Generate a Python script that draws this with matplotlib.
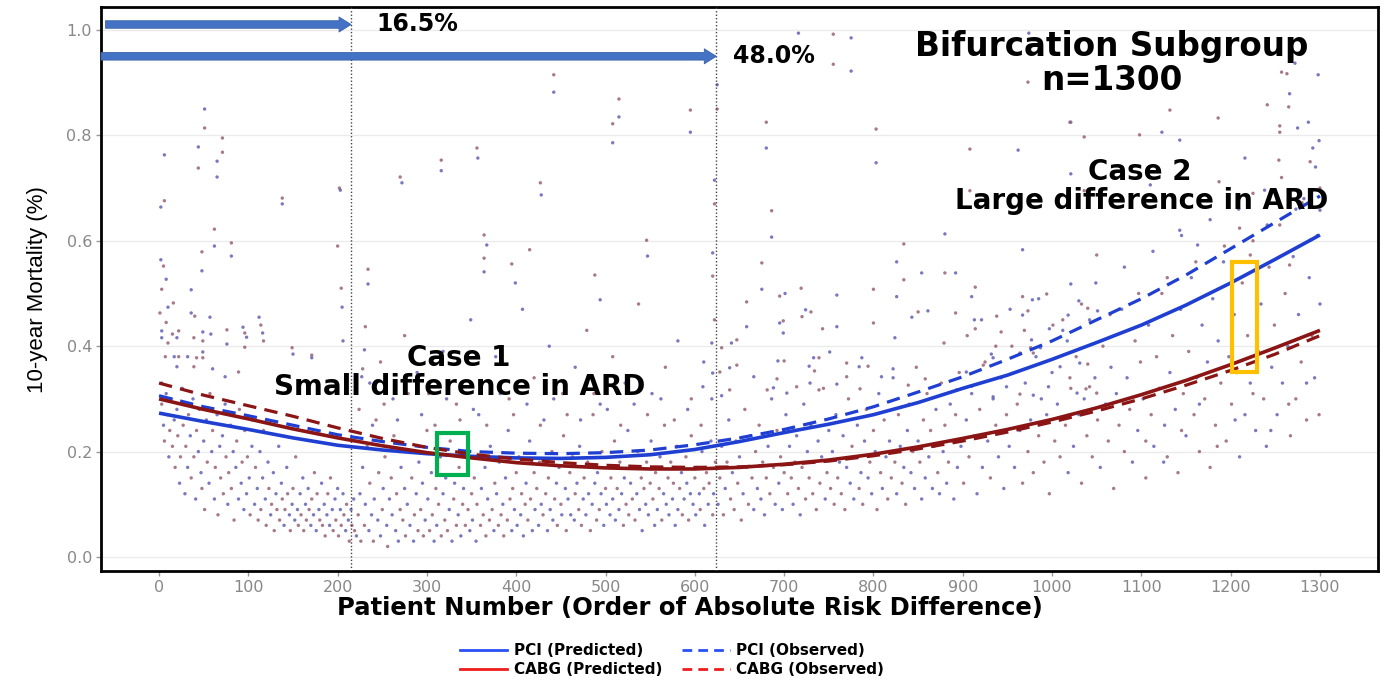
import matplotlib
matplotlib.use("Agg")
import matplotlib.pyplot as plt
from matplotlib.lines import Line2D
from matplotlib.patches import Rectangle
import numpy as np

# ---------------- data ----------------
curve_x = [0, 50, 100, 150, 200, 250, 300, 350, 400, 450, 500, 550, 600, 650,
           700, 750, 800, 850, 900, 950, 1000, 1050, 1100, 1150, 1200, 1250, 1300]
pci_pred = [0.273, 0.257, 0.242, 0.226, 0.212, 0.203, 0.196, 0.191, 0.188, 0.187,
            0.189, 0.194, 0.204, 0.219, 0.236, 0.252, 0.270, 0.293, 0.320, 0.345,
            0.375, 0.407, 0.440, 0.478, 0.520, 0.565, 0.611]
pci_obs = [0.306, 0.285, 0.268, 0.250, 0.232, 0.219, 0.208, 0.200, 0.197, 0.196,
           0.198, 0.203, 0.213, 0.226, 0.242, 0.262, 0.285, 0.313, 0.342, 0.375,
           0.410, 0.450, 0.490, 0.535, 0.585, 0.635, 0.685]
cabg_pred = [0.300, 0.280, 0.262, 0.243, 0.226, 0.211, 0.198, 0.188, 0.179, 0.173,
             0.169, 0.167, 0.167, 0.170, 0.176, 0.184, 0.195, 0.209, 0.225, 0.242,
             0.261, 0.283, 0.308, 0.335, 0.365, 0.397, 0.430]
cabg_obs = [0.330, 0.307, 0.287, 0.267, 0.245, 0.225, 0.208, 0.195, 0.186, 0.179,
            0.174, 0.171, 0.170, 0.171, 0.175, 0.182, 0.192, 0.205, 0.220, 0.237,
            0.256, 0.277, 0.300, 0.326, 0.354, 0.385, 0.420]

cutoffs = [215, 624]
cutoff_labels = ["16.5%", "48.0%"]

outliers_left = [
    (51, 0.850), (51, 0.814), (6, 0.763), (71, 0.795), (44, 0.778), (71, 0.768),
    (65, 0.751), (44, 0.738), (65, 0.721), (202, 0.700), (203, 0.696), (138, 0.681),
    (138, 0.670), (6, 0.676), (2, 0.664), (62, 0.622), (62, 0.590), (81, 0.596),
    (81, 0.571), (48, 0.579), (48, 0.543), (200, 0.590), (2, 0.564), (5, 0.552),
    (8, 0.527), (3, 0.508), (36, 0.507), (204, 0.510), (205, 0.474), (234, 0.546),
    (234, 0.518), (16, 0.482), (10, 0.474), (1, 0.463), (36, 0.463), (40, 0.457),
    (57, 0.455), (8, 0.445), (3, 0.429), (22, 0.429), (3, 0.416), (15, 0.423),
    (20, 0.416), (39, 0.416), (49, 0.427), (49, 0.410), (58, 0.423), (76, 0.431),
    (76, 0.404), (10, 0.406), (94, 0.436), (96, 0.425), (98, 0.417), (96, 0.398),
    (112, 0.455), (114, 0.440), (116, 0.425), (117, 0.410), (206, 0.410), (231, 0.437),
    (230, 0.393), (228, 0.357), (227, 0.342), (7, 0.380), (17, 0.380), (22, 0.380),
    (32, 0.380), (42, 0.378), (49, 0.389), (49, 0.378), (20, 0.361), (39, 0.361),
    (60, 0.357), (89, 0.351), (74, 0.342), (149, 0.397), (150, 0.385), (171, 0.383),
    (171, 0.378),
]
outliers_mid = [
    (316, 0.753), (316, 0.733), (356, 0.776), (357, 0.757), (364, 0.611), (367, 0.592),
    (364, 0.567), (364, 0.541), (442, 0.915), (442, 0.882), (427, 0.710), (428, 0.687),
    (270, 0.721), (272, 0.710), (515, 0.869), (515, 0.835), (508, 0.822), (508, 0.786),
    (595, 0.848), (595, 0.806), (546, 0.601), (547, 0.571), (488, 0.535), (494, 0.488),
    (395, 0.556), (399, 0.520), (415, 0.583), (625, 0.896), (625, 0.850), (622, 0.715),
    (622, 0.670), (620, 0.577), (620, 0.533), (716, 0.994), (755, 0.992), (775, 0.985),
    (755, 0.935), (775, 0.922), (680, 0.825), (680, 0.776), (803, 0.812), (803, 0.748),
    (686, 0.657), (686, 0.607), (675, 0.558), (675, 0.508), (658, 0.484), (658, 0.437),
    (908, 0.774), (962, 0.772), (908, 0.695), (880, 0.613), (834, 0.594), (826, 0.560),
    (834, 0.526), (854, 0.539), (880, 0.539), (892, 0.539), (800, 0.508), (826, 0.494),
    (914, 0.512), (910, 0.494), (695, 0.495), (701, 0.500), (719, 0.510), (759, 0.497),
    (720, 0.456), (724, 0.469), (730, 0.465), (695, 0.444), (699, 0.448), (699, 0.425),
    (743, 0.433), (759, 0.437), (800, 0.444), (843, 0.455), (850, 0.465), (861, 0.467),
    (892, 0.463), (913, 0.450), (914, 0.433), (824, 0.416), (879, 0.406), (619, 0.406),
    (630, 0.397), (641, 0.406), (647, 0.412), (693, 0.372), (700, 0.372), (733, 0.378),
    (739, 0.378), (751, 0.389), (770, 0.368), (787, 0.378), (794, 0.362), (809, 0.342),
    (839, 0.326), (822, 0.357), (858, 0.338), (620, 0.349), (628, 0.351), (639, 0.359),
    (647, 0.364), (666, 0.342), (692, 0.338), (728, 0.362), (734, 0.353), (729, 0.330),
    (739, 0.317), (759, 0.328), (770, 0.342), (784, 0.361), (785, 0.319), (609, 0.323),
    (714, 0.323), (703, 0.311), (681, 0.317), (688, 0.321), (639, 0.317), (630, 0.306),
    (893, 0.317), (904, 0.351), (910, 0.324),
]
outliers_right = [
    (1021, 0.825), (1036, 0.797), (1021, 0.727), (1036, 0.695), (967, 0.583),
    (1050, 0.573), (1021, 0.518), (967, 0.494), (978, 0.488), (994, 0.499), (1030, 0.486),
    (938, 0.457), (967, 0.459), (973, 0.467), (997, 0.433), (1012, 0.450), (1018, 0.459),
    (1040, 0.472), (1051, 0.467), (943, 0.427), (977, 0.412), (976, 0.397), (987, 0.397),
    (964, 0.387), (932, 0.385), (923, 0.364), (934, 0.378), (979, 0.387), (1031, 0.368),
    (1040, 0.366), (1009, 0.361), (1020, 0.340), (996, 0.323), (1042, 0.323), (1028, 0.311),
    (1038, 0.319), (979, 0.307), (964, 0.309), (949, 0.323), (1050, 0.311), (934, 0.304),
    (1257, 0.920), (1298, 0.915), (1265, 0.854), (1272, 0.937), (1263, 0.917),
    (1266, 0.879), (1241, 0.858), (1287, 0.825), (1255, 0.818), (1275, 0.814),
    (1255, 0.806), (1292, 0.776), (1254, 0.753), (1216, 0.757), (1187, 0.712),
    (1238, 0.696), (1280, 0.672), (1300, 0.658), (1132, 0.848), (1143, 0.791),
    (1186, 0.833), (1110, 0.706), (1210, 0.624), (1163, 0.592), (1222, 0.573),
    (1289, 0.601), (1266, 0.554), (1143, 0.620), (1020, 0.825), (1123, 0.806),
    (1098, 0.801), (974, 0.994), (973, 0.901), (1295, 0.740), (1300, 0.700),
]
band_left = [
    (3, 0.33), (3, 0.29), (5, 0.25), (6, 0.22), (8, 0.31), (9, 0.27), (11, 0.19), (12, 0.24),
    (14, 0.30), (15, 0.21), (17, 0.26), (18, 0.17), (20, 0.28), (21, 0.23), (23, 0.14),
    (24, 0.19), (26, 0.32), (27, 0.25), (29, 0.12), (30, 0.21), (32, 0.17), (33, 0.27),
    (35, 0.23), (36, 0.15), (38, 0.30), (39, 0.19), (41, 0.11), (42, 0.24), (44, 0.20),
    (45, 0.28), (47, 0.16), (48, 0.13), (50, 0.22), (51, 0.09), (53, 0.26), (54, 0.18),
    (56, 0.14), (57, 0.31), (59, 0.20), (60, 0.24), (62, 0.11), (63, 0.17), (65, 0.27),
    (66, 0.08), (68, 0.21), (69, 0.15), (71, 0.23), (72, 0.12), (74, 0.29), (75, 0.19),
    (77, 0.10), (78, 0.16), (80, 0.25), (81, 0.13), (83, 0.20), (84, 0.07), (86, 0.17),
    (87, 0.22), (89, 0.11), (90, 0.28), (92, 0.14), (93, 0.18), (95, 0.09), (96, 0.24),
    (98, 0.12), (99, 0.19), (101, 0.15), (102, 0.08), (104, 0.21), (105, 0.26), (107, 0.10),
    (108, 0.17), (110, 0.13), (111, 0.07), (113, 0.20), (114, 0.09), (116, 0.15),
    (117, 0.24), (119, 0.11), (120, 0.06), (122, 0.18), (123, 0.13), (125, 0.08),
    (126, 0.10), (128, 0.16), (129, 0.05), (131, 0.12), (132, 0.09), (134, 0.21),
    (135, 0.07), (137, 0.14), (138, 0.11), (140, 0.06), (141, 0.09), (143, 0.17),
    (144, 0.12), (146, 0.08), (147, 0.05), (149, 0.10), (150, 0.13), (152, 0.07),
    (153, 0.19), (155, 0.09), (156, 0.06), (158, 0.12), (159, 0.08), (161, 0.15),
    (162, 0.05), (164, 0.10), (165, 0.07), (167, 0.13), (168, 0.09), (170, 0.06),
    (171, 0.11), (173, 0.08), (174, 0.16), (176, 0.05), (177, 0.12), (179, 0.09),
    (180, 0.07), (182, 0.14), (183, 0.06), (185, 0.10), (186, 0.04), (188, 0.08),
    (189, 0.12), (191, 0.06), (192, 0.15), (194, 0.09), (195, 0.05), (197, 0.11),
    (198, 0.07), (200, 0.13), (201, 0.04), (203, 0.09), (204, 0.06), (206, 0.12),
    (207, 0.08), (209, 0.05), (210, 0.10), (212, 0.07), (213, 0.03), (215, 0.09),
    (216, 0.06), (218, 0.11), (219, 0.05),
]
band_mid = [
    (221, 0.04), (223, 0.08), (225, 0.12), (226, 0.03), (228, 0.17), (230, 0.06), (231, 0.10),
    (233, 0.21), (235, 0.05), (236, 0.14), (238, 0.08), (240, 0.03), (241, 0.11), (243, 0.26),
    (245, 0.07), (246, 0.16), (248, 0.04), (250, 0.09), (251, 0.13), (253, 0.19), (255, 0.06),
    (256, 0.02), (258, 0.11), (260, 0.15), (261, 0.08), (263, 0.23), (265, 0.05), (266, 0.12),
    (268, 0.03), (270, 0.09), (271, 0.17), (273, 0.07), (275, 0.13), (276, 0.04), (278, 0.10),
    (280, 0.20), (281, 0.06), (283, 0.15), (285, 0.03), (286, 0.08), (288, 0.12), (290, 0.05),
    (291, 0.18), (293, 0.09), (295, 0.14), (296, 0.04), (298, 0.07), (300, 0.24), (301, 0.11),
    (303, 0.05), (305, 0.16), (306, 0.08), (308, 0.03), (310, 0.13), (311, 0.06), (313, 0.10),
    (315, 0.19), (316, 0.04), (318, 0.12), (320, 0.07), (321, 0.15), (323, 0.05), (325, 0.09),
    (326, 0.22), (328, 0.03), (330, 0.11), (331, 0.14), (333, 0.06), (335, 0.08), (336, 0.17),
    (338, 0.04), (340, 0.10), (341, 0.13), (343, 0.06), (345, 0.20), (346, 0.09), (348, 0.05),
    (350, 0.12), (351, 0.07), (353, 0.15), (355, 0.03), (356, 0.10), (358, 0.27), (360, 0.06),
    (361, 0.13), (363, 0.08), (365, 0.17), (366, 0.04), (368, 0.11), (370, 0.07), (371, 0.21),
    (373, 0.09), (375, 0.05), (376, 0.14), (378, 0.12), (380, 0.06), (381, 0.18), (383, 0.08),
    (385, 0.10), (386, 0.04), (388, 0.15), (390, 0.07), (391, 0.24), (393, 0.11), (395, 0.05),
    (396, 0.13), (398, 0.09), (400, 0.16), (401, 0.06), (403, 0.19), (405, 0.08), (406, 0.12),
    (408, 0.04), (410, 0.10), (411, 0.14), (413, 0.07), (415, 0.22), (416, 0.11), (418, 0.05),
    (420, 0.16), (421, 0.09), (423, 0.13), (425, 0.06), (426, 0.18), (428, 0.10), (430, 0.08),
    (431, 0.26), (433, 0.12), (435, 0.05), (436, 0.15), (438, 0.09), (440, 0.20), (441, 0.07),
    (443, 0.11), (445, 0.14), (446, 0.06), (448, 0.17), (450, 0.10), (451, 0.08), (453, 0.23),
    (455, 0.13), (456, 0.05), (458, 0.11), (460, 0.16), (461, 0.08), (463, 0.19), (465, 0.07),
    (466, 0.12), (468, 0.14), (470, 0.09), (471, 0.21), (473, 0.06), (475, 0.11), (476, 0.15),
    (478, 0.08), (480, 0.18), (481, 0.12), (483, 0.05), (485, 0.10), (486, 0.27), (488, 0.14),
    (490, 0.07), (491, 0.16), (493, 0.09), (495, 0.12), (496, 0.20), (498, 0.06), (500, 0.13),
    (501, 0.10), (503, 0.17), (505, 0.08), (506, 0.15), (508, 0.11), (510, 0.22), (511, 0.07),
    (513, 0.13), (515, 0.09), (516, 0.18), (518, 0.12), (520, 0.06), (521, 0.15), (523, 0.10),
    (525, 0.24), (526, 0.08), (528, 0.14), (530, 0.11), (531, 0.17), (533, 0.07), (535, 0.12),
    (536, 0.20), (538, 0.09), (540, 0.15), (541, 0.05), (543, 0.13), (545, 0.10), (546, 0.18),
    (548, 0.08), (550, 0.14), (551, 0.22), (553, 0.11), (555, 0.06), (556, 0.16), (558, 0.09),
    (560, 0.13), (561, 0.19), (563, 0.07), (565, 0.12), (566, 0.25), (568, 0.10), (570, 0.15),
    (571, 0.08), (573, 0.18), (575, 0.11), (576, 0.14), (578, 0.06), (580, 0.21), (581, 0.09),
    (583, 0.13), (585, 0.16), (586, 0.08), (588, 0.11), (590, 0.19), (591, 0.14), (593, 0.07),
    (595, 0.12), (596, 0.23), (598, 0.10), (600, 0.15), (601, 0.08), (603, 0.17), (605, 0.12),
    (606, 0.09), (608, 0.20), (610, 0.13), (611, 0.06), (613, 0.16), (615, 0.10), (616, 0.14),
    (618, 0.22), (620, 0.08), (621, 0.12), (623, 0.18),
    (236, 0.33), (248, 0.37), (262, 0.30), (275, 0.42), (289, 0.35), (302, 0.31), (318, 0.39),
    (333, 0.29), (349, 0.45), (362, 0.33), (377, 0.38), (392, 0.30), (407, 0.47), (420, 0.34),
    (437, 0.40), (452, 0.31), (466, 0.36), (479, 0.43), (494, 0.29), (508, 0.38), (522, 0.33),
    (537, 0.48), (552, 0.31), (567, 0.36), (581, 0.41), (596, 0.30), (610, 0.37), (622, 0.45),
]
band_c = [
    (626, 0.10), (628, 0.15), (630, 0.21), (632, 0.08), (634, 0.13), (636, 0.18), (638, 0.26),
    (640, 0.11), (642, 0.16), (644, 0.09), (646, 0.22), (648, 0.14), (650, 0.19), (652, 0.07),
    (654, 0.12), (656, 0.28), (658, 0.17), (660, 0.10), (662, 0.23), (664, 0.15), (666, 0.09),
    (668, 0.20), (670, 0.13), (672, 0.25), (674, 0.11), (676, 0.18), (678, 0.08), (680, 0.15),
    (682, 0.21), (684, 0.12), (686, 0.30), (688, 0.17), (690, 0.10), (692, 0.24), (694, 0.14),
    (696, 0.19), (698, 0.09), (700, 0.16), (702, 0.27), (704, 0.12), (706, 0.21), (708, 0.15),
    (710, 0.10), (712, 0.18), (714, 0.23), (716, 0.13), (718, 0.08), (720, 0.17), (722, 0.29),
    (724, 0.11), (726, 0.20), (728, 0.15), (730, 0.25), (732, 0.12), (734, 0.18), (736, 0.09),
    (738, 0.22), (740, 0.14), (742, 0.19), (744, 0.32), (746, 0.11), (748, 0.16), (750, 0.24),
    (752, 0.13), (754, 0.20), (756, 0.10), (758, 0.27), (760, 0.15), (762, 0.18), (764, 0.12),
    (766, 0.23), (768, 0.09), (770, 0.17), (772, 0.30), (774, 0.14), (776, 0.21), (778, 0.11),
    (780, 0.19), (782, 0.25), (784, 0.13), (786, 0.16), (788, 0.10), (790, 0.22), (792, 0.28),
    (794, 0.15), (796, 0.18), (798, 0.12), (800, 0.24), (802, 0.20), (804, 0.09), (806, 0.31),
    (808, 0.16), (810, 0.13), (812, 0.26), (814, 0.19), (816, 0.11), (818, 0.22), (820, 0.15),
    (822, 0.34), (824, 0.18), (826, 0.12), (828, 0.27), (830, 0.21), (832, 0.14), (834, 0.17),
    (836, 0.10), (838, 0.24), (840, 0.29), (842, 0.16), (844, 0.20), (846, 0.13), (848, 0.36),
    (850, 0.22), (852, 0.18), (854, 0.11), (856, 0.26), (858, 0.15), (860, 0.31), (862, 0.19),
    (864, 0.24), (866, 0.13), (868, 0.21), (870, 0.28), (872, 0.16), (874, 0.12), (876, 0.33),
    (878, 0.20), (880, 0.25), (882, 0.14), (884, 0.18), (886, 0.29), (888, 0.22), (890, 0.11),
    (892, 0.27), (894, 0.17), (896, 0.35), (898, 0.21),
]
band_right = [
    (901, 0.14), (904, 0.26), (907, 0.19), (910, 0.31), (913, 0.23), (916, 0.12), (919, 0.28),
    (922, 0.17), (925, 0.37), (928, 0.22), (931, 0.15), (934, 0.30), (937, 0.25), (940, 0.19),
    (943, 0.34), (946, 0.13), (949, 0.27), (952, 0.21), (955, 0.40), (958, 0.17), (961, 0.29),
    (964, 0.24), (967, 0.14), (970, 0.33), (973, 0.20), (976, 0.26), (979, 0.16), (982, 0.38),
    (985, 0.23), (988, 0.30), (991, 0.18), (994, 0.27), (997, 0.12), (1000, 0.35), (1003, 0.22),
    (1006, 0.29), (1009, 0.19), (1012, 0.43), (1015, 0.25), (1018, 0.16), (1021, 0.32),
    (1024, 0.21), (1027, 0.38), (1030, 0.27), (1033, 0.14), (1036, 0.30), (1039, 0.23),
    (1042, 0.45), (1045, 0.19), (1048, 0.34), (1051, 0.26), (1054, 0.17), (1057, 0.40),
    (1060, 0.29), (1063, 0.22), (1066, 0.36), (1069, 0.13), (1072, 0.31), (1075, 0.25),
    (1078, 0.47), (1081, 0.20), (1084, 0.34), (1087, 0.28), (1090, 0.18), (1093, 0.41),
    (1096, 0.24), (1099, 0.37), (1102, 0.30), (1105, 0.15), (1108, 0.44), (1111, 0.27),
    (1114, 0.21), (1117, 0.38), (1120, 0.32), (1123, 0.50), (1126, 0.25), (1129, 0.19),
    (1132, 0.35), (1135, 0.42), (1138, 0.28), (1141, 0.16), (1144, 0.47), (1147, 0.31),
    (1150, 0.23), (1153, 0.39), (1156, 0.53), (1159, 0.27), (1162, 0.34), (1165, 0.20),
    (1168, 0.44), (1171, 0.30), (1174, 0.37), (1177, 0.17), (1180, 0.49), (1183, 0.25),
    (1186, 0.41), (1189, 0.33), (1192, 0.56), (1195, 0.22), (1198, 0.38), (1201, 0.29),
    (1204, 0.46), (1207, 0.35), (1210, 0.19), (1213, 0.52), (1216, 0.27), (1219, 0.42),
    (1222, 0.33), (1225, 0.60), (1228, 0.24), (1231, 0.39), (1234, 0.48), (1237, 0.30),
    (1240, 0.21), (1243, 0.55), (1246, 0.36), (1249, 0.44), (1252, 0.27), (1255, 0.63),
    (1258, 0.33), (1261, 0.50), (1264, 0.40), (1267, 0.23), (1270, 0.57), (1273, 0.30),
    (1276, 0.46), (1279, 0.37), (1282, 0.68), (1285, 0.26), (1288, 0.53), (1291, 0.42),
    (1294, 0.34), (1297, 0.61), (1300, 0.48),
]
band_extra = [
    (224, 0.28), (239, 0.25), (252, 0.29), (267, 0.26), (279, 0.31), (294, 0.27), (309, 0.25),
    (322, 0.30), (337, 0.26), (352, 0.28), (367, 0.25), (382, 0.31), (397, 0.27), (412, 0.29),
    (427, 0.25), (442, 0.30), (457, 0.27), (472, 0.26), (487, 0.31), (502, 0.28), (517, 0.25),
    (532, 0.29), (547, 0.27), (562, 0.30), (577, 0.26), (592, 0.28), (607, 0.25), (619, 0.30),
    (905, 0.42), (921, 0.45), (937, 0.40), (953, 0.47), (969, 0.43), (985, 0.49), (1001, 0.44),
    (1017, 0.41), (1033, 0.48), (1049, 0.52), (1065, 0.46), (1081, 0.55), (1097, 0.50),
    (1113, 0.58), (1129, 0.53), (1145, 0.61), (1161, 0.56), (1177, 0.64), (1193, 0.59),
    (1209, 0.66), (1225, 0.69), (1241, 0.63), (1257, 0.72), (1273, 0.66), (1289, 0.75),
    (1299, 0.79), (1105, 0.22), (1125, 0.18), (1145, 0.24), (1165, 0.29), (1185, 0.21),
    (1205, 0.26), (1225, 0.31), (1245, 0.24), (1265, 0.29), (1285, 0.33), (1299, 0.27),
]

case1_box = (311, 0.156, 35, 0.079)   # x, y, width, height (data units)
case2_box = (1201, 0.351, 28, 0.209)

x_ticks = list(range(0, 1301, 100))
y_ticks = [0.0, 0.2, 0.4, 0.6, 0.8, 1.0]

# ---------------- figure ----------------
plt.rcParams['font.family'] = ['DejaVu Sans']
fig = plt.figure(figsize=(13.84, 6.93), dpi=100)
ax = fig.add_axes([101 / 1384, 1 - 571 / 693, (1378 - 101) / 1384, (571 - 7) / 693])
ax.set_xlim(-65, 1365)
ax.set_ylim(-0.0266, 1.0436)

for yt in y_ticks:
    ax.axhline(yt, color='#ebebeb', lw=1.0, zorder=0)

all_pts = (outliers_left + outliers_mid + outliers_right + band_left + band_mid +
           band_c + band_right + band_extra)
px = np.array([p[0] for p in all_pts], dtype=float)
py = np.array([p[1] for p in all_pts], dtype=float)
cols = ['#6262b6' if i % 2 == 0 else '#986274' for i in range(len(px))]
ax.scatter(px, py, s=6, c=cols, marker='o', linewidths=0, alpha=0.85, zorder=2)

blue = '#1f3fd2'
dred = '#8b1414'
ax.plot(curve_x, pci_pred, color=blue, lw=2.6, zorder=4, solid_capstyle='butt')
ax.plot(curve_x, pci_obs, color=blue, lw=2.3, ls=(0, (4.2, 2.6)), zorder=4)
ax.plot(curve_x, cabg_pred, color=dred, lw=2.6, zorder=4, solid_capstyle='butt')
ax.plot(curve_x, cabg_obs, color=dred, lw=2.3, ls=(0, (4.2, 2.6)), zorder=4)

for cx in cutoffs:
    ax.axvline(cx, color='#444444', lw=1.0, ls=(0, (1, 1.5)), zorder=3)

arrow_y = [1.0104, 0.950]
arrow_start = [-60, -65]
for cx, ay, ax0, lab, tx in zip(cutoffs, arrow_y, arrow_start, cutoff_labels, [243, 643]):
    ax.annotate('', xy=(cx, ay), xytext=(ax0, ay),
                arrowprops=dict(arrowstyle='simple,head_length=0.72,head_width=0.9,tail_width=0.45',
                                mutation_scale=12, fc='#4472C4', ec='#3a62a8', lw=0.6,
                                shrinkA=0, shrinkB=0), zorder=6, annotation_clip=False)
    ax.text(tx, ay, lab, fontsize=17, fontweight='bold', ha='left', va='center', zorder=7)

ax.add_patch(Rectangle(case1_box[:2], case1_box[2], case1_box[3], fill=False,
                       ec='#00b050', lw=3.0, zorder=6))
ax.add_patch(Rectangle(case2_box[:2], case2_box[2], case2_box[3], fill=False,
                       ec='#ffc000', lw=3.0, zorder=6))

ax.text(1067, 0.968, 'Bifurcation Subgroup', fontsize=23.5, fontweight='bold', ha='center', va='center', zorder=7)
ax.text(1067, 0.905, 'n=1300', fontsize=23.5, fontweight='bold', ha='center', va='center', zorder=7)
ax.text(1098, 0.731, 'Case 2', fontsize=20, fontweight='bold', ha='center', va='center', zorder=7)
ax.text(1100, 0.676, 'Large difference in ARD', fontsize=20, fontweight='bold', ha='center', va='center', zorder=7)
ax.text(336, 0.378, 'Case 1', fontsize=20, fontweight='bold', ha='center', va='center', zorder=7)
ax.text(337, 0.323, 'Small difference in ARD', fontsize=20, fontweight='bold', ha='center', va='center', zorder=7)

ax.set_xticks(x_ticks)
ax.set_xticklabels([str(t) for t in x_ticks])
ax.set_yticks(y_ticks)
ax.set_yticklabels([f'{t:.1f}' for t in y_ticks])
ax.tick_params(axis='both', colors='#999999', labelcolor='#888888', labelsize=11.5,
               length=3.5, width=1.0, pad=3)

for sp in ax.spines.values():
    sp.set_color('black')
    sp.set_linewidth(2.0)

ax.set_xlabel('Patient Number (Order of Absolute Risk Difference)', fontsize=17.5,
              fontweight='bold', labelpad=4)
ax.xaxis.set_label_coords((690 - 101) / 1277, -0.045, transform=ax.transAxes)
ax.xaxis.label.set_va('top')
fig.text(38 / 1384, 1 - 290 / 693, '10-year Mortality (%)', rotation=90, ha='center', va='center',
         fontsize=16, family=['Liberation Sans', 'DejaVu Sans'])

handles = [
    Line2D([], [], color='#2a50f5', lw=2.0),
    Line2D([], [], color='#ee1c1c', lw=2.0),
    Line2D([], [], color='#2a50f5', lw=2.0, ls=(0, (3.5, 2.2))),
    Line2D([], [], color='#ee1c1c', lw=2.0, ls=(0, (3.5, 2.2))),
]
labels = ['PCI (Predicted)', 'CABG (Predicted)', 'PCI (Observed)', 'CABG (Observed)']
fig.legend(handles, labels, ncol=2, loc='center', bbox_to_anchor=(672 / 1384, 1 - 660 / 693),
           frameon=False, prop=dict(weight='bold', size=11), handlelength=3.1,
           handletextpad=0.45, columnspacing=1.3, labelspacing=0.25, borderpad=0)

fig.savefig('out.png', dpi=100)
